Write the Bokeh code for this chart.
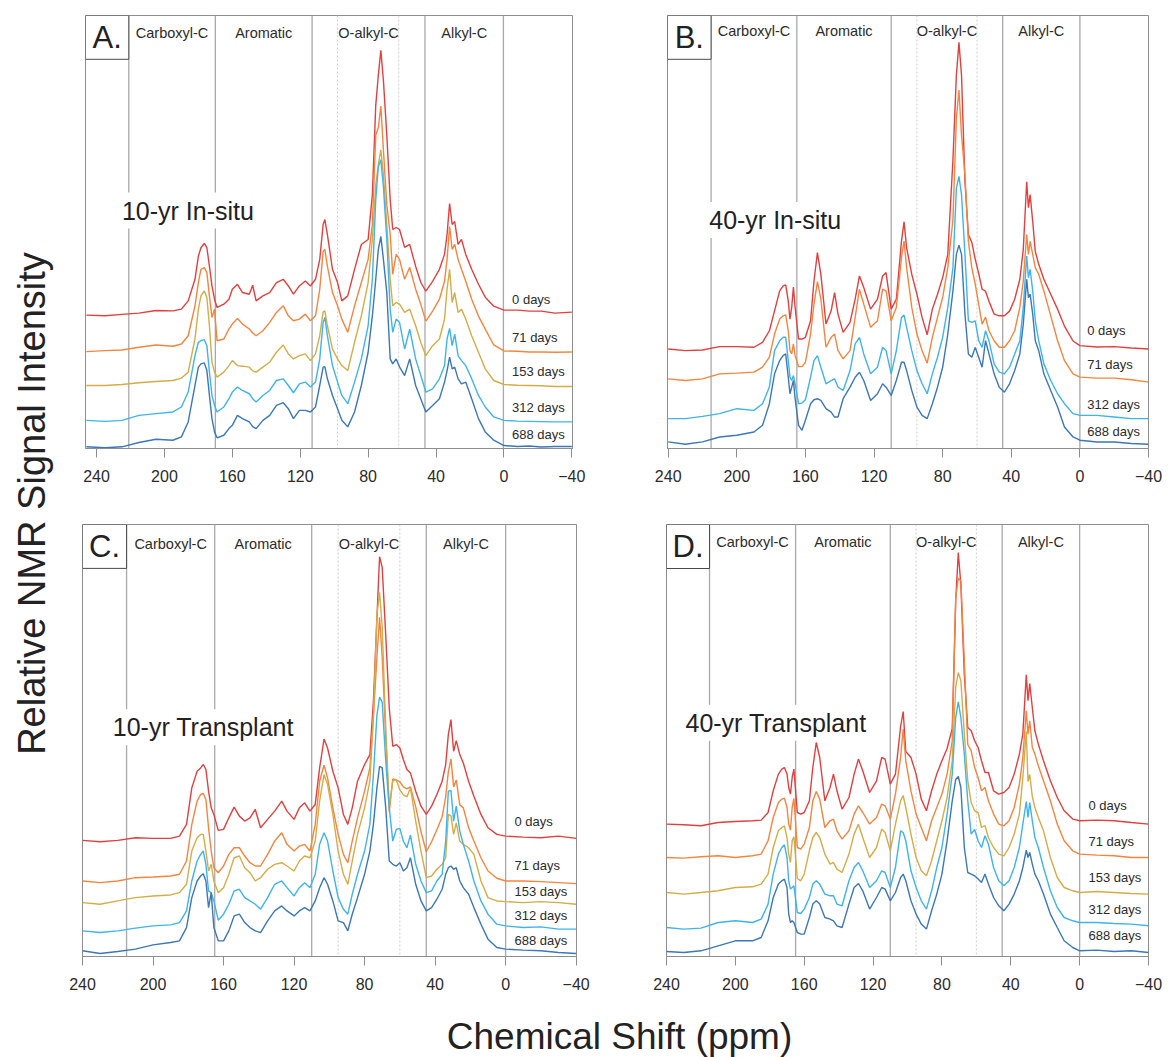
import math
from bokeh.plotting import figure
from bokeh.models import Range1d, Span, Label, BoxAnnotation, FixedTicker
from bokeh.layouts import row, column
from bokeh.embed import file_html
from bokeh.resources import INLINE

# ---------------- data ----------------
# y values: relative signal intensity of each stacked trace (arbitrary units)
A_PPM = [246, 235, 225, 215, 205, 195, 190, 186, 182, 180, 178.5, 176.5, 175, 173.5, 172, 170.5, 169, 165, 162, 160,
         157, 154, 150, 148, 146, 142, 138, 134, 130, 127, 124, 120.5, 117, 114, 111, 108.5, 106.5, 105.5, 104, 101,
         98, 95.5, 92, 88, 84, 80, 77.5, 75.5, 74, 72.5, 71, 69, 67, 65.5, 63.5, 61.5, 58.5, 55.5, 52, 49,
         46, 42, 38, 35, 33.5, 32, 30.5, 29, 27, 25, 22.5, 19, 15, 11, 6, 0, -8, -15, -22, -30, -40]
A_D0 = [134, 133.3, 134.7, 136, 138.7, 138.3, 140, 148.3, 170, 193.3, 201.7, 206, 201.7, 183.3, 163.3, 150, 141.7, 145, 150, 160,
        165, 156.7, 155, 164, 148.3, 153.3, 156.7, 166.7, 170, 163.3, 155, 163.3, 168.3, 163.3, 170, 190, 225, 230, 215, 180,
        166.7, 148.3, 153.3, 180, 205, 210, 255, 345, 375, 400, 370, 315, 250, 220, 222, 220, 202, 205, 183, 167,
        158, 168, 180, 195, 215, 246, 225, 228, 205, 210, 195, 180, 165, 152, 143, 139, 139, 138, 138, 136, 137]
A_D71 = [97.3, 98.3, 99, 101.7, 104, 102.7, 105, 113.3, 143.3, 166.7, 180, 181.7, 176.7, 153.3, 131.7, 140, 108.3, 110, 120, 125,
         130.7, 125, 120, 116, 113.3, 118.3, 126.7, 136.7, 143.3, 133.3, 128.3, 130, 135, 128.3, 133.3, 160, 198, 200, 183.3, 156.7,
         143.3, 130, 116.7, 143.3, 166.7, 190, 225, 315, 322, 344, 300, 245, 215, 175, 195, 190, 170, 182, 160, 145,
         128, 138, 150, 168, 190, 223, 200, 205, 190, 180, 168, 150, 133, 120, 104, 98, 97.7, 97, 97, 96.7, 97]
A_D153 = [63.3, 63.3, 64.3, 66, 67.3, 68.3, 70.7, 76.7, 110, 140, 153.3, 158.3, 151.7, 123.3, 86.7, 76.7, 71.7, 76.7, 83.3, 88.3,
          83.3, 82.7, 81.7, 78, 76.7, 81.7, 86.7, 96.7, 104, 95, 90, 93.3, 95, 88.3, 95, 113.3, 137.3, 138.3, 123.3, 100,
          90, 83.3, 78.3, 106.7, 133.3, 166.7, 210, 265, 285, 300, 275, 225, 170, 143.3, 146.7, 145, 136.7, 140, 123.3, 106.7,
          93.3, 103.3, 110, 130, 160, 180, 146.7, 156.7, 136.7, 140, 130, 113.3, 96.7, 80, 68.3, 64.3, 63.5, 63.3, 63, 62.3, 62.3]
A_D312 = [28.3, 27.3, 28.3, 33.3, 35, 36.7, 41.7, 56.7, 93.3, 106.7, 108.3, 109.3, 103.3, 76.7, 53.3, 43.3, 36.7, 41.7, 50, 56.7,
          61.7, 58.3, 55, 50, 46.7, 53.3, 58.3, 68.3, 70, 63.3, 56, 65, 66.7, 61.7, 66.7, 90, 126.7, 131.7, 113.3, 83.3,
          66.7, 53.3, 45, 66.7, 90, 123.3, 170, 250, 283, 290, 263, 210, 140, 116.7, 130, 126.7, 100, 120, 90, 73.3,
          56.7, 60, 70, 83.3, 110, 120.7, 103.3, 115, 93.3, 88.3, 83.3, 70, 53.3, 41.7, 31.7, 28.3, 27.5, 27.3, 27, 26.7, 26.7]
A_D688 = [1.7, 0.7, 1.7, 6, 9.3, 8.3, 11.7, 26.7, 63.3, 81.7, 85, 86, 78.3, 53.3, 30, 16.7, 10.7, 13.3, 20, 23.3,
          33.3, 30, 26.7, 22, 20, 28.3, 33.3, 43.3, 46, 40, 30, 38.3, 38.3, 36.7, 41.7, 63.3, 81.7, 82.3, 70, 53.3,
          40, 28.3, 21.7, 36.7, 63.3, 96.7, 133.3, 170, 200, 213, 190, 156.7, 90, 85, 90, 82, 73.3, 90, 63.3, 50,
          36.7, 43.3, 50, 66.7, 78, 91.7, 80, 81.7, 70, 65, 66.7, 50, 30, 16.7, 8.3, 3, 2, 2.5, 1.5, 2, 2]

B_PPM = [240, 230, 220, 210, 200, 190, 185, 181, 178, 175, 173, 171.5, 170, 169, 168, 167, 166, 164, 162, 160,
         157, 155, 153, 151, 148, 145, 143, 141, 138, 134, 131, 128.5, 126, 122, 118, 115, 113, 110, 107, 104,
         102.5, 101, 98, 95, 92, 89, 86, 83, 80, 77, 74, 72, 70.5, 69, 67, 65, 63, 61, 59, 57,
         55, 53, 50, 47, 44, 41, 38, 35, 33, 31, 30, 29, 27.5, 26, 24, 21, 17, 13, 9, 4, 0, -10, -20, -30, -40]
B_D0 = [100, 98.3, 99, 102.3, 102.3, 101.7, 106.7, 118.3, 138.3, 158.3, 163.3, 164.3, 148.3, 130, 141.7, 162.3, 141.7, 110, 110, 111.7,
        128.3, 168.3, 196.7, 175, 125, 138.3, 156.7, 135, 116.7, 126.7, 150, 173.3, 161.7, 140, 150, 173.3, 176.7, 140, 150, 208.3,
        227.7, 201.6, 175, 155, 131.7, 114.3, 140, 155, 171.7, 195, 290, 375, 408, 375, 268, 215, 207, 190, 176, 160,
        158, 148, 135, 133.3, 133.3, 138, 150, 170, 200, 268, 242, 255, 228, 198, 185, 170, 155, 140, 123, 108, 103.3, 102, 102.3, 101, 100]
B_D71 = [70, 68.3, 70, 75, 75.7, 76.7, 81.7, 91.7, 115, 130, 133.3, 134.3, 118.3, 98.3, 95, 105, 93.3, 82.3, 82.3, 86.7,
         115, 145, 167.7, 150, 101.7, 111.7, 115, 98.3, 90, 98.3, 131.7, 160, 145, 121.7, 128.3, 160, 158.3, 128.3, 141.7, 191.7,
         208.3, 181.7, 141.7, 115, 98.3, 85.7, 111.7, 131.7, 151.7, 181.7, 230, 331.6, 360, 315, 275, 208, 181.7, 165, 145, 125,
         132, 118.3, 108.3, 101.7, 101.7, 108.3, 118.3, 141.7, 168.3, 215, 195, 208, 195, 181.7, 175, 158.3, 133.3, 108.3, 88.3, 75, 71.7, 70.7, 70.7, 69, 66.7]
B_D312 = [30, 30, 32.3, 35, 40, 38.3, 45, 61.7, 98.3, 108.3, 111.7, 111.7, 88.3, 71.7, 68.3, 73.3, 65, 45, 45.6, 49,
          71.7, 88.3, 93.3, 81.7, 65, 68.3, 70, 61.7, 58.3, 78.3, 105, 111.7, 95, 75, 81.7, 101.7, 98.3, 75, 98.3, 131.7,
          134, 121.7, 98.3, 78.3, 65, 55, 75, 91.7, 111.7, 141.7, 181.7, 261.6, 273.3, 255, 195, 128.3, 126.7, 128.3, 108.3, 101.7,
          118.3, 108.3, 85, 76.7, 75, 81.7, 95, 108.3, 141.7, 193.3, 171.7, 180, 158.3, 128.3, 108.3, 85, 68.3, 55, 45, 35, 33.3, 33.3, 31.7, 30, 30]
B_D688 = [6.6, 4.3, 6.6, 11.6, 13.3, 16.6, 23.3, 45, 75, 88.3, 93.3, 95, 71.6, 55, 61.6, 68.3, 50, 23.3, 18.3, 28.3,
          45, 49, 50, 48.3, 40, 36.6, 31.6, 31.6, 50, 61.6, 71.6, 76.6, 68.3, 48.3, 55, 65, 61.6, 53.3, 68.3, 86.6,
          86.6, 78.3, 58.3, 41.6, 33.3, 30, 45, 61.6, 81.6, 115, 158.3, 195, 204.3, 195, 135, 95, 91.6, 101.6, 91.6, 81.6,
          108.3, 95, 75, 61.6, 56.6, 65, 78.3, 95, 125, 170, 151.6, 155, 135, 108.3, 98.3, 75, 58.3, 41.6, 21.6, 11.6, 8.3, 6.6, 6.6, 5, 4.3]

C_PPM = [240, 230, 220, 210, 200, 190, 185, 181, 178, 175, 173, 171.5, 170, 168.5, 167, 165.5, 163, 160, 157, 154,
         151, 148, 145, 142, 139, 135, 131, 127, 124, 120, 117, 114, 111, 108, 105.5, 103, 101, 98, 95, 92,
         89.5, 87, 84, 80, 77, 75, 73, 71.5, 70, 68, 66, 64, 62, 60, 58, 56, 54, 51, 48, 45,
         42, 39, 36, 34, 32.5, 31, 29.5, 28, 26, 24, 21, 18, 14, 10, 5, 0, -10, -20, -30, -40]
C_D0 = [116.4, 115, 116.4, 119, 118.4, 118.4, 120.7, 132.4, 169, 185.7, 189, 192.4, 187.4, 165.7, 149, 142.4, 126.4, 127.4, 139, 149.7,
        140.7, 135.7, 139, 147.4, 129, 137.4, 145.7, 155.7, 145.7, 137.4, 149, 154, 145.7, 152.4, 189, 218, 209, 185.7, 169, 142.4,
        132.4, 149, 175.7, 192.4, 202.4, 255.7, 339, 400.7, 390, 322, 249, 210.7, 212.4, 209, 197.4, 187.4, 184, 165.7, 150.7, 142.4,
        150.7, 162.4, 175.7, 192.4, 222.4, 237.4, 205.7, 216.4, 202.4, 194, 175.7, 160.7, 142.4, 129, 122.4, 120.7, 119.7, 119, 120.7, 118.4]
C_D71 = [75.7, 74, 75.7, 79, 79.7, 80.7, 82.4, 95.7, 132.4, 155.7, 162.4, 163.4, 157.4, 129, 105.7, 89, 84, 90.7, 102.4, 109,
         109, 100.7, 94, 90.7, 90.7, 102.4, 115.7, 124, 112.4, 105.7, 110.7, 112.4, 105.7, 132.4, 175.7, 191.7, 179, 149, 122.4, 102.4,
         94, 115.7, 139, 165.7, 189, 240, 300, 340, 300, 220, 145, 178, 177, 175, 170, 168, 170, 150, 125, 105,
         115, 127, 140, 160, 185, 198, 170, 177, 152, 149, 129, 115.7, 99, 85.7, 78.4, 75.7, 75.7, 75, 74, 73]
C_D153 = [54, 52.4, 55.7, 59, 60.7, 61.7, 64, 72.4, 105.7, 119, 122.4, 122.4, 105.7, 85.7, 92.4, 75.7, 64, 69, 82.4, 99,
          100.7, 89, 84, 75.7, 79, 87.4, 92.4, 94, 90.7, 85.7, 95.7, 100.7, 99, 115.7, 155.7, 182.4, 172.4, 142.4, 105.7, 82.4,
          72.4, 95.7, 122.4, 149, 175.7, 240, 342, 365, 330, 230, 150, 176, 177, 167, 162, 160, 169, 135.7, 105.7, 79,
          80.7, 87.4, 92.4, 99, 142.4, 141, 122.4, 134, 115.7, 112.4, 109, 102.4, 75.7, 59, 55.7, 55, 54, 55, 54, 52.4]
C_D312 = [25.7, 24, 25.7, 28.4, 30.7, 31.7, 34, 45.7, 75.7, 95.7, 102.4, 105.7, 92.4, 65.7, 64, 55.7, 36.4, 42.4, 52.4, 65.7,
          67.4, 59, 55.7, 52.4, 47.4, 59, 72.4, 75.7, 69, 60.7, 69, 74, 69, 82.4, 112.4, 124, 115.7, 85.7, 59, 47.4,
          42.4, 62.4, 82.4, 105.7, 132.4, 182, 242, 260, 255, 195.7, 149, 115.7, 127.4, 128.4, 115.7, 109, 121.7, 92.4, 75.7, 64,
          65.7, 75.7, 82.4, 115.7, 165.7, 166.4, 135.7, 150.7, 125.7, 112.4, 95.7, 75.7, 55.7, 42.4, 32.4, 30.7, 29, 29.7, 27.4, 27.4]
C_D688 = [5.7, 3, 5, 7.4, 11.7, 14, 15.7, 29, 59, 75.7, 80.7, 83, 75.7, 49, 64, 29, 15.7, 15.7, 25.7, 40.7,
          42.4, 34, 29, 25.7, 24, 35.7, 45.7, 50.7, 45.7, 40.7, 45.7, 49, 45.7, 55.7, 69, 79, 72.4, 55.7, 35.7, 34,
          25.7, 42.4, 59, 82.4, 105.7, 132.4, 169, 190.7, 189, 149, 95.7, 92.4, 90.7, 94, 85.7, 89, 99, 72.4, 55.7, 45.7,
          49, 57.4, 67.4, 82.4, 89, 90.7, 87.4, 89, 75.7, 69, 62.4, 49, 32.4, 17.4, 9, 7.4, 6.4, 5.7, 4, 3]

D_PPM = B_PPM
D_D0 = [132.4, 131.7, 130.7, 134, 135, 135.7, 136.4, 144, 165.7, 182.4, 187.4, 189, 182.4, 169, 162.4, 179, 187.4, 144, 142.4, 144,
        155.7, 189, 214, 199, 155.7, 169, 182.4, 165.7, 147.4, 159, 182.4, 197.4, 185.7, 164, 175.7, 199, 197.4, 172.4, 182.4, 230,
        245, 205, 199, 182.4, 157.4, 145.7, 165.7, 182.4, 195.7, 208, 228, 355.7, 404, 372, 282.4, 229, 225.7, 215.7, 209, 195.7,
        184, 184, 165.7, 162.4, 164, 169, 182.4, 202.4, 222.4, 281.7, 255.7, 273, 249, 225.7, 212.4, 195.7, 175.7, 159, 145.7, 137.4, 135.7, 136.4, 135.7, 134, 132.4]
D_D71 = [99, 98.4, 99.7, 100.7, 99, 100.7, 102.4, 115.7, 139, 154, 157.4, 158.4, 149, 132.4, 126.4, 149, 158, 109, 107.4, 112.4,
         129, 155.7, 165, 157.4, 129, 135.7, 137.4, 125.7, 117.4, 125.7, 142.4, 150.7, 144, 132.4, 139, 152.4, 150.7, 137.4, 162.4, 199,
         227.4, 195.7, 165.7, 142.4, 129, 115.7, 135.7, 149, 162.4, 182.4, 215.7, 359, 378.4, 375.7, 295.7, 212, 205.7, 189, 179, 165.7,
         169, 155.7, 142.4, 132.4, 130.7, 135.7, 149, 172.4, 199, 245.7, 222.4, 235.7, 209, 202.4, 190.7, 175.7, 155.7, 132.4, 115.7, 105.7, 102.4, 101.4, 100.7, 99, 99]
D_D153 = [64, 62.4, 64, 65.7, 69, 69.7, 72.4, 82.4, 109, 125.7, 129, 130.7, 119, 102.4, 94, 115.7, 119.7, 78, 75.7, 82.4,
          105.7, 119, 124, 119, 102.4, 92.4, 94, 87.4, 84, 102.4, 122.4, 132.4, 119, 99, 109, 127.4, 124, 105.7, 132.4, 155.7,
          161, 149, 122.4, 99, 85.7, 80.7, 95.7, 115.7, 135.7, 159, 195.7, 269, 284, 275.7, 222.4, 175.7, 154, 145.7, 144, 129,
          131, 119, 109, 102.4, 100.7, 109, 122.4, 142.4, 179, 225, 175, 182, 160, 149, 139, 125.7, 99, 79, 69, 65.7, 64, 65, 64, 63, 62.4]
D_D312 = [29, 27.4, 28.4, 34, 35.7, 34, 37.4, 52.4, 82.4, 102.4, 109, 111.7, 99, 75.7, 67.4, 69, 70.7, 44, 43, 47.4,
          59, 72.4, 75.7, 72.4, 62.4, 60.7, 60.7, 52.4, 50.7, 75.7, 89, 94, 85.7, 69, 75.7, 85.7, 84, 69, 89, 125.7,
          124, 115.7, 85.7, 69, 55.7, 47.4, 65.7, 89, 109, 142.4, 182.4, 239, 254.7, 239, 202.4, 155.7, 122.4, 127, 115.7, 109,
          120.7, 112.4, 89, 75.7, 70.7, 75.7, 89, 109, 132.4, 155, 139, 154, 135.7, 119, 109, 89, 65.7, 49, 39, 35.7, 34, 34, 33, 32.4, 30.7]
D_D688 = [5, 4, 5.7, 10.7, 15.7, 15.7, 19, 35.7, 59, 72.4, 75.7, 77.4, 69, 42.4, 34, 35.7, 34, 24, 22.4, 22.4,
          39, 52.4, 55.7, 52.4, 39, 37.4, 35.7, 30.7, 29, 52.4, 69, 73, 65.7, 47.4, 59, 69, 67.4, 55.7, 64, 79,
          82.4, 75.7, 55.7, 42.4, 32.4, 27.4, 45.7, 62.4, 82.4, 115.7, 155.7, 177, 180, 169, 109, 84, 82.4, 80.7, 77.4, 74,
          82.4, 72.4, 59, 50.7, 45.7, 52.4, 62.4, 75.7, 89, 106.4, 99, 104, 92.4, 82.4, 75.7, 62.4, 42.4, 29, 15.7, 9, 5.7, 6.4, 5, 5.7, 4]

REGIONS = ["Carboxyl-C", "Aromatic", "O-alkyl-C", "Alkyl-C"]
TICKS = [240, 200, 160, 120, 80, 40, 0, -40]
DAY_COLORS = {"0 days": "#e1403f", "71 days": "#f4853f", "153 days": "#d4ad48",
              "312 days": "#3fb4ea", "688 days": "#3c77b6"}

FONT = "Liberation Sans"
TXT = "#2b2b2b"

PANELS = [
    dict(letter="A.", name="10-yr In-situ", ppm=A_PPM,
         traces=[("0 days", A_D0), ("71 days", A_D71), ("153 days", A_D153), ("312 days", A_D312), ("688 days", A_D688)],
         lab_y=[150, 112, 77.3, 41, 14], lab_x=-4.8,
         solid=[221, 170, 113, 46.5, 0.3], dashed=[98, 62],
         w=558, h=500, bl=23, br=48, bt=15, bb=50, fh=435, xlim=(246.5, -40.4),
         name_xy=(227.4, 239), reg_y=417),
    dict(letter="B.", name="40-yr In-situ", ppm=B_PPM,
         traces=[("0 days", B_D0), ("71 days", B_D71), ("312 days", B_D312), ("688 days", B_D688)],
         lab_y=[119, 84, 44.3, 16.6], lab_x=-4.3,
         solid=[215, 165, 110, 45, 0], dashed=[95, 60],
         w=551, h=500, bl=47, br=23, bt=13, bb=52, fh=435, xlim=(240.4, -40),
         name_xy=(218.4, 229.6), reg_y=419.7),
    dict(letter="C.", name="10-yr Transplant", ppm=C_PPM,
         traces=[("0 days", C_D0), ("71 days", C_D71), ("153 days", C_D153), ("312 days", C_D312), ("688 days", C_D688)],
         lab_y=[135, 91.4, 65, 40.7, 15.7], lab_x=-5,
         solid=[215, 165, 110, 45, 0], dashed=[95, 60],
         w=558, h=500, bl=20, br=44, bt=23, bb=44, fh=433, xlim=(240, -40.2),
         name_xy=(225.1, 229.7), reg_y=413.3),
    dict(letter="D.", name="40-yr Transplant", ppm=D_PPM,
         traces=[("0 days", D_D0), ("71 days", D_D71), ("153 days", D_D153), ("312 days", D_D312), ("688 days", D_D688)],
         lab_y=[150.7, 114.7, 79, 47.4, 20.7], lab_x=-5.1,
         solid=[215, 165, 110, 45, 0], dashed=[95, 60],
         w=551, h=500, bl=46, br=23, bt=24, bb=44, fh=432, xlim=(240, -40),
         name_xy=(231.3, 233.7), reg_y=414.3),
]


def make_panel(c):
    p = figure(width=c["w"], height=c["h"], output_backend="svg", toolbar_location=None,
               x_range=Range1d(c["xlim"][0], c["xlim"][1]), y_range=Range1d(0, c["fh"]),
               y_axis_location=None,
               min_border_left=c["bl"], min_border_right=c["br"],
               min_border_top=c["bt"], min_border_bottom=c["bb"])
    p.xgrid.visible = False
    p.ygrid.visible = False
    p.outline_line_color = "#8e8e8e"
    p.outline_line_width = 1
    p.background_fill_color = "white"
    p.border_fill_color = "white"

    ax = p.xaxis[0]
    ax.ticker = FixedTicker(ticks=TICKS)
    ax.major_label_overrides = {-40: "\u221240"}
    ax.axis_line_color = "#8e8e8e"
    ax.major_tick_line_color = "#8e8e8e"
    ax.major_tick_out = 9
    ax.major_tick_in = 0
    ax.minor_tick_out = 0
    ax.minor_tick_in = 0
    ax.major_label_standoff = 12
    ax.major_label_text_font = FONT
    ax.major_label_text_font_size = "16px"
    ax.major_label_text_color = TXT

    for v in c["solid"]:
        p.add_layout(Span(location=v, dimension="height", line_color="#a9a9a9",
                          line_width=1.3, level="underlay"))
    for v in c["dashed"]:
        p.add_layout(Span(location=v, dimension="height", line_color="#cfcfcf",
                          line_width=1, line_dash="2 2", level="underlay"))

    for (lab, ys), ly in zip(c["traces"], c["lab_y"]):
        p.line(c["ppm"], ys, line_color=DAY_COLORS[lab], line_width=1.4)
        p.add_layout(Label(x=c["lab_x"], y=ly, text=lab, text_font=FONT, text_font_size="13px",
                           text_color=TXT, text_align="left", text_baseline="middle"))

    s = c["solid"]
    bounds = [(s[0], s[1]), (s[1], s[2]), (s[2], s[3]), (s[3], s[4])]
    for reg, (a, b) in zip(REGIONS, bounds):
        p.add_layout(Label(x=(a + b) / 2, y=c["reg_y"], text=reg, text_font=FONT,
                           text_font_size="14.5px", text_color=TXT,
                           text_align="center", text_baseline="middle"))

    # panel letter box
    p.add_layout(BoxAnnotation(left=c["xlim"][0], right=s[0], top=c["fh"], bottom=c["fh"] - 44,
                               fill_color="white", fill_alpha=1, line_color="#4a4a4a",
                               line_alpha=1, line_width=1))
    p.add_layout(Label(x=(c["xlim"][0] + s[0]) / 2, y=c["fh"] - 22, text=c["letter"],
                       text_font=FONT, text_font_size="31px", text_color="#222222",
                       text_align="center", text_baseline="middle"))

    nx, ny = c["name_xy"]
    p.add_layout(Label(x=nx, y=ny, text=c["name"], text_font=FONT, text_font_size="25px",
                       text_color="#222222", text_align="left", text_baseline="middle",
                       background_fill_color="white", background_fill_alpha=1, padding=4))
    return p


panels = [make_panel(c) for c in PANELS]

ytitle = figure(width=62, height=1057, output_backend="svg", toolbar_location=None,
                x_range=Range1d(0, 62), y_range=Range1d(0, 1057),
                x_axis_location=None, y_axis_location=None, min_border=0)
ytitle.outline_line_color = None
ytitle.xgrid.visible = False
ytitle.ygrid.visible = False
ytitle.add_layout(Label(x=31, y=1057 - 503, text="Relative NMR Signal Intensity", angle=math.pi / 2,
                        text_font=FONT, text_font_size="38px", text_color="#222222",
                        text_align="center", text_baseline="middle"))

xtitle = figure(width=1109, height=57, output_backend="svg", toolbar_location=None,
                x_range=Range1d(0, 1109), y_range=Range1d(0, 57),
                x_axis_location=None, y_axis_location=None, min_border=0)
xtitle.outline_line_color = None
xtitle.xgrid.visible = False
xtitle.ygrid.visible = False
xtitle.add_layout(Label(x=619 - 62, y=21, text="Chemical Shift (ppm)",
                        text_font=FONT, text_font_size="37px", text_color="#222222",
                        text_align="center", text_baseline="middle"))

layout = row(ytitle, column(row(panels[0], panels[1]), row(panels[2], panels[3]), xtitle))

open("out.html", "w").write(file_html(layout, INLINE))
